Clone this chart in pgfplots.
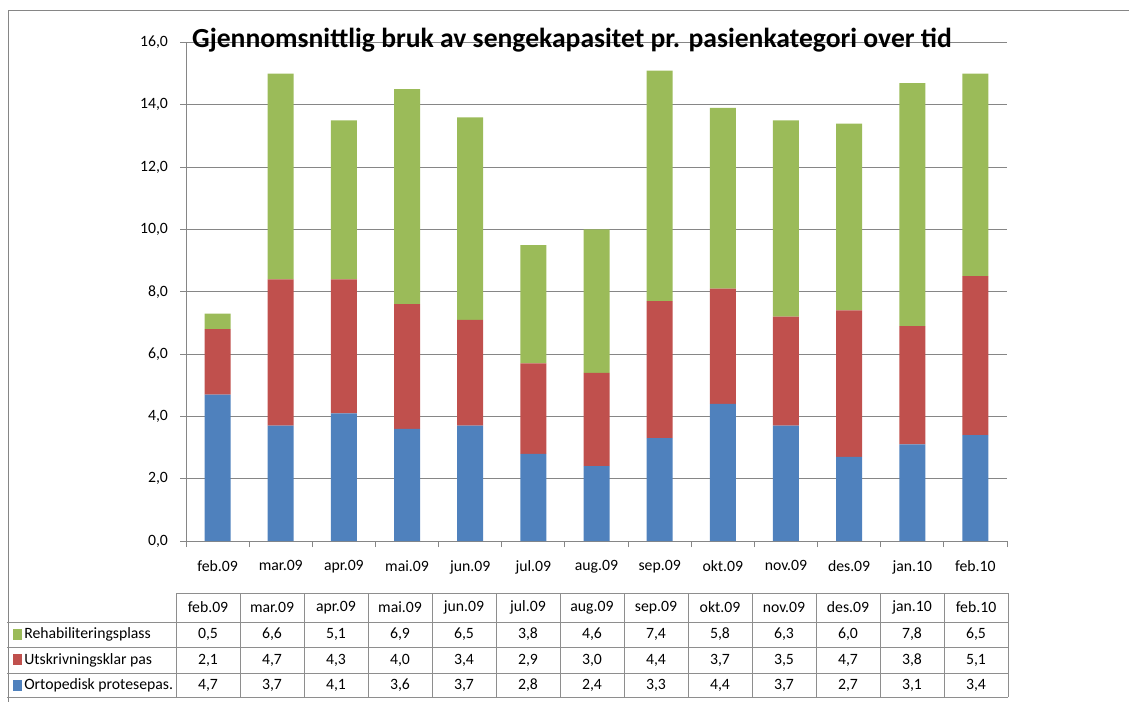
\documentclass[border=0pt]{standalone}
\usepackage{fontspec}
\setmainfont{Carlito}
\usepackage{pgfplots}
\usepackage{pgfplotstable}
\pgfplotsset{compat=1.18}
\pgfkeys{/pgf/number format/assume math mode=true}
\definecolor{cBlue}{HTML}{4F81BD}
\definecolor{cRed}{HTML}{C0504D}
\definecolor{cGreen}{HTML}{9BBB59}
\definecolor{cGrid}{HTML}{868686}
\definecolor{cTab}{HTML}{8E8E8E}

\pgfplotstableread{
m o u r
feb.09 4.7 2.1 0.5
mar.09 3.7 4.7 6.6
apr.09 4.1 4.3 5.1
mai.09 3.6 4.0 6.9
jun.09 3.7 3.4 6.5
jul.09 2.8 2.9 3.8
aug.09 2.4 3.0 4.6
sep.09 3.3 4.4 7.4
okt.09 4.4 3.7 5.8
nov.09 3.7 3.5 6.3
des.09 2.7 4.7 6.0
jan.10 3.1 3.8 7.8
feb.10 3.4 5.1 6.5
}\data

\begin{document}
\begin{tikzpicture}
\path[use as bounding box] (0,0) rectangle (846.75pt,-526.5pt);
\begin{axis}[
 at={(139.5pt,-405.75pt)}, anchor=south west,
 scale only axis, width=615.75pt, height=373.875pt,
 ybar stacked, bar width=19.5pt,
 xmin=-0.5, xmax=12.5, ymin=0, ymax=16,
 xtick={-0.5,0.5,...,12.5}, xticklabels={},
 extra x ticks={0,...,12},
 extra x tick labels={feb.09,mar.09,apr.09,mai.09,jun.09,jul.09,aug.09,sep.09,okt.09,nov.09,des.09,jan.10,feb.10},
 extra x tick style={tick style={draw=none}, grid=none},
 ytick={0,2,...,16},
 ymajorgrids, grid style={cGrid, line width=0.75pt},
 axis x line*=bottom, axis y line*=left,
 axis line style={cGrid, line width=0.75pt},
 tick align=outside,
 major tick length=4.5pt,
 tick style={cGrid, line width=0.75pt},
 tick label style={font=\fontsize{11.8}{14}\selectfont, text=black},
 yticklabel style={xshift=-5.5pt, /pgf/number format/.cd, fixed, fixed zerofill, precision=1, use comma},
 xticklabel style={yshift=-6.5pt},
]
\addplot[fill=cBlue, draw=none] table[x expr=\coordindex, y=o]{\data};
\addplot[fill=cRed, draw=none] table[x expr=\coordindex, y=u]{\data};
\addplot[fill=cGreen, draw=none] table[x expr=\coordindex, y=r]{\data};
\end{axis}
\begin{scope}[x=0.75pt,y=-0.75pt, font=\fontsize{11.8}{14}\selectfont]
\draw[cGrid, line width=0.75pt] (8,702) -- (8,11) -- (1129,11);
\node[anchor=base, font=\fontsize{20.7}{24}\selectfont\bfseries] at (572,48) {Gjennomsnittlig bruk av sengekapasitet pr. pasienkategori over tid};
\draw[cTab, line width=0.75pt] (176,593) -- (1008,593);
\foreach \yy in {622,647,673,697} \draw[cTab, line width=0.75pt] (7,\yy) -- (1008,\yy);
\foreach \k in {0,...,13} \draw[cTab, line width=0.75pt] ({176+64*\k},593) -- ({176+64*\k},697);
\foreach \k in {0,...,12} {
  \pgfplotstablegetelem{\k}{m}\of\data
  \node at ({208+64*\k},607.5) {\pgfplotsretval};
}
\foreach \col/\yy in {r/634.5,u/660,o/685} {
  \foreach \k in {0,...,12} {
    \pgfplotstablegetelem{\k}{\col}\of\data
    \node at ({208+64*\k},\yy) {\pgfmathprintnumber[fixed,fixed zerofill,precision=1,use comma]{\pgfplotsretval}};
  }
}
\fill[cGreen] (13,629) rectangle (22,640);
\fill[cRed] (13,654) rectangle (22,665);
\fill[cBlue] (13,680) rectangle (22,691);
\node[anchor=west, inner sep=0pt] at (24,634.5) {Rehabiliteringsplass};
\node[anchor=west, inner sep=0pt] at (24,660) {Utskrivningsklar pas};
\node[anchor=west, inner sep=0pt] at (24,685) {Ortopedisk protesepas.};
\end{scope}
\end{tikzpicture}
\end{document}
